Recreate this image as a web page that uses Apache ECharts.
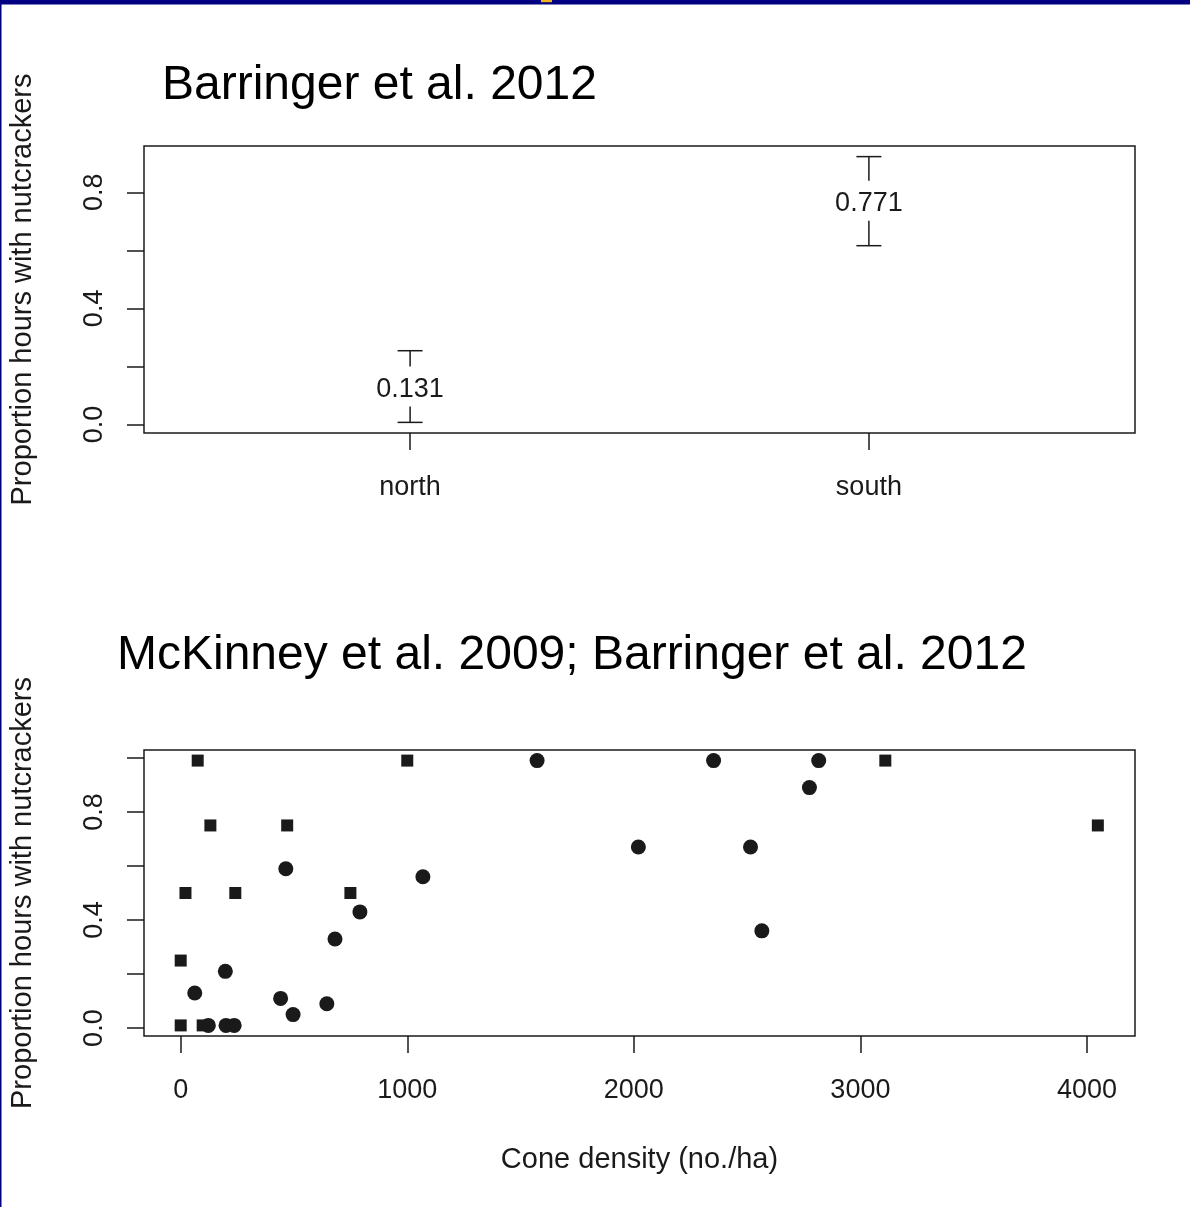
<!DOCTYPE html>
<html>
<head>
<meta charset="utf-8">
<script src="https://cdn.jsdelivr.net/npm/echarts@6/dist/echarts.min.js"></script>
<style>
  html, body { margin: 0; padding: 0; background: #ffffff; }
  #chart { width: 1190px; height: 1207px; }
</style>
</head>
<body>
<div id="chart"></div>
<script>
// ---- Top panel: proportion of hours with nutcrackers by region ----
const groups = ['north', 'south'];
const groupMean = [0.131, 0.771];
const groupLower = [0.007, 0.616];
const groupUpper = [0.254, 0.923];
const topYTicks = [0, 0.2, 0.4, 0.6, 0.8];
const topYLabels = [0, 0.4, 0.8];

// ---- Bottom panel: cone density vs proportion ----
const squareX = [75, 1000, 131, 470, 21, 241, 749, 0, 0, 97, 3110, 4048];
const squareY = [0.99, 0.99, 0.75, 0.75, 0.5, 0.5, 0.5, 0.25, 0.01, 0.01, 0.99, 0.75];
const circleX = [122, 200, 236, 62, 197, 441, 496, 645, 681, 791, 464, 1069, 1573, 2352, 2816, 2775, 2020, 2515, 2565];
const circleY = [0.01, 0.01, 0.01, 0.13, 0.21, 0.11, 0.05, 0.09, 0.33, 0.43, 0.59, 0.56, 0.99, 0.99, 0.99, 0.89, 0.67, 0.67, 0.36];
const bottomXTicks = [0, 1000, 2000, 3000, 4000];
const bottomYTicks = [0, 0.2, 0.4, 0.6, 0.8, 1.0];
const bottomYLabels = [0, 0.4, 0.8];

const FONT = '"Liberation Sans", Arial, Helvetica, sans-serif';
const INK = '#1a1a1a';
const tickStyle = { color: INK, width: 1.5 };

const chart = echarts.init(document.getElementById('chart'), null, { renderer: 'canvas' });

function yAxisCfg(gridIndex, min, max, ticks, labels) {
  return {
    gridIndex: gridIndex, type: 'value', min: min, max: max,
    splitLine: { show: false },
    axisLine: { show: false, onZero: false },
    axisTick: { show: true, length: 17, customValues: ticks, lineStyle: tickStyle },
    axisLabel: { customValues: labels, rotate: 90, margin: 36, fontSize: 27, color: INK, fontFamily: FONT,
                 formatter: v => Number(v).toFixed(1) },
    name: 'Proportion hours with nutcrackers', nameLocation: 'middle', nameGap: 107,
    nameTextStyle: { fontSize: 29, color: INK, fontFamily: FONT }
  };
}

const option = {
  backgroundColor: '#ffffff',
  animation: false,
  title: [
    { text: 'Barringer et al. 2012', left: 162, top: 62, padding: 0,
      textStyle: { fontSize: 48, fontWeight: 'normal', color: '#000', fontFamily: FONT } },
    { text: 'McKinney et al. 2009; Barringer et al. 2012', left: 117, top: 632, padding: 0,
      textStyle: { fontSize: 48, fontWeight: 'normal', color: '#000', fontFamily: FONT } }
  ],
  graphic: [
    { type: 'rect', shape: { x: 0, y: 0, width: 1190, height: 4.5 }, style: { fill: '#000080' }, silent: true },
    { type: 'rect', shape: { x: 0, y: 0, width: 1.5, height: 1207 }, style: { fill: '#000080' }, silent: true },
    { type: 'rect', shape: { x: 541, y: 0, width: 11, height: 2.2 }, style: { fill: '#f2b21a' }, silent: true }
  ],
  grid: [
    { left: 142, top: 146, width: 993, height: 287, show: true, borderColor: INK, borderWidth: 1.5, backgroundColor: 'transparent' },
    { left: 142, top: 750, width: 993, height: 286, show: true, borderColor: INK, borderWidth: 1.5, backgroundColor: 'transparent' }
  ],
  xAxis: [
    { gridIndex: 0, type: 'value', min: 0.42, max: 2.58,
      splitLine: { show: false },
      axisLine: { show: false, onZero: false },
      axisTick: { show: true, length: 17, customValues: [1, 2], lineStyle: tickStyle },
      axisLabel: { customValues: [1, 2], margin: 41, fontSize: 27, color: INK, fontFamily: FONT,
                   formatter: v => groups[Math.round(v) - 1] } },
    { gridIndex: 1, type: 'value', min: -162, max: 4212,
      splitLine: { show: false },
      axisLine: { show: false, onZero: false },
      axisTick: { show: true, length: 17, customValues: bottomXTicks, lineStyle: tickStyle },
      axisLabel: { customValues: bottomXTicks, margin: 41, fontSize: 27, color: INK, fontFamily: FONT,
                   formatter: v => String(Math.round(v)) },
      name: 'Cone density (no./ha)', nameLocation: 'middle', nameGap: 109,
      nameTextStyle: { fontSize: 29, color: INK, fontFamily: FONT } }
  ],
  yAxis: [
    yAxisCfg(0, -0.0296, 0.9596, topYTicks, topYLabels),
    yAxisCfg(1, -0.0292, 1.0292, bottomYTicks, bottomYLabels)
  ],
  series: [
    {
      type: 'custom', xAxisIndex: 0, yAxisIndex: 0,
      data: groups.map((g, i) => [i + 1, groupLower[i], groupMean[i], groupUpper[i]]),
      renderItem: function (params, api) {
        const x = api.value(0);
        const pLo = api.coord([x, api.value(1)]);
        const pMid = api.coord([x, api.value(2)]);
        const pHi = api.coord([x, api.value(3)]);
        const gap = 20, cap = 12.5;
        const st = { stroke: INK, lineWidth: 1.5 };
        const children = [];
        if (pMid[1] - gap > pHi[1]) children.push({ type: 'line', shape: { x1: pHi[0], y1: pHi[1], x2: pHi[0], y2: pMid[1] - gap }, style: st });
        if (pLo[1] > pMid[1] + gap) children.push({ type: 'line', shape: { x1: pLo[0], y1: pMid[1] + gap, x2: pLo[0], y2: pLo[1] }, style: st });
        children.push({ type: 'line', shape: { x1: pHi[0] - cap, y1: pHi[1], x2: pHi[0] + cap, y2: pHi[1] }, style: st });
        children.push({ type: 'line', shape: { x1: pLo[0] - cap, y1: pLo[1], x2: pLo[0] + cap, y2: pLo[1] }, style: st });
        children.push({ type: 'text', x: pMid[0], y: pMid[1] + 3,
          style: { text: api.value(2).toFixed(3), fill: INK, font: '27px ' + FONT, textAlign: 'center', textVerticalAlign: 'middle' } });
        return { type: 'group', children: children };
      }
    },
    {
      type: 'scatter', xAxisIndex: 1, yAxisIndex: 1, symbol: 'rect', symbolSize: 12,
      itemStyle: { color: INK, opacity: 1 },
      data: squareX.map((x, i) => [x, squareY[i]])
    },
    {
      type: 'scatter', xAxisIndex: 1, yAxisIndex: 1, symbol: 'circle', symbolSize: 15,
      itemStyle: { color: INK, opacity: 1 },
      data: circleX.map((x, i) => [x, circleY[i]])
    }
  ]
};
chart.setOption(option);
</script>
</body>
</html>
